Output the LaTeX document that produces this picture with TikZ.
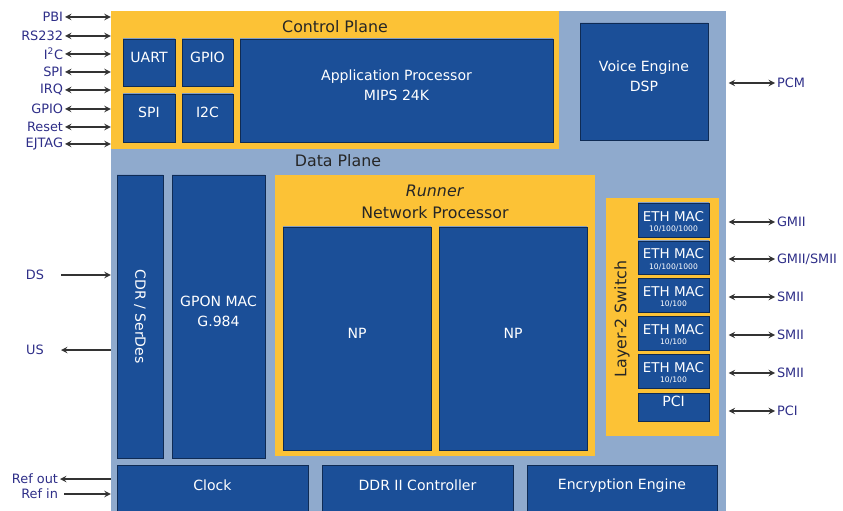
\documentclass[tikz,border=0pt]{standalone}
\usepackage{fontspec}
\setmainfont{DejaVu Sans}
\usetikzlibrary{fit}
\definecolor{dblue}{HTML}{1B4F98}
\definecolor{gold}{HTML}{FCC236}
\definecolor{slate}{HTML}{8FAACD}
\definecolor{navy}{HTML}{2E2E88}

\begin{document}
\begin{tikzpicture}[x=0.03cm,y=-0.03cm,>=stealth,
  blk/.style={fill=dblue,draw=dblue!55!black,line width=0.6pt,inner sep=0pt,
    text=white,align=center,font=\fontsize{12}{17}\selectfont,
    path picture={\draw[dblue!55!white,line width=1.2pt]
      (path picture bounding box.north west) -- (path picture bounding box.north east);}},
  area/.style={fill=gold,draw=none,inner sep=0pt},
  title/.style={text=black!85,font=\fontsize{13.5}{19}\selectfont,align=center},
  pin/.style={text=navy,font=\fontsize{11}{12}\selectfont,inner sep=1.5pt},
  io/.style={line width=1.4pt,black!80},
  eth/.style={blk,label={[text=white,inner sep=0pt,yshift=3pt,font=\fontsize{11.5}{12}\selectfont]center:ETH MAC},
    label={[text=white,inner sep=0pt,yshift=-8pt,font=\fontsize{6.5}{7}\selectfont]center:#1}}]
\useasboundingbox (0,0) rectangle (843,511);

% chip and planes
\node[fill=slate,inner sep=0pt,fit={(111,11) (726,511)}] (chip) {};
\node[area,fit={(111,11) (559,149)}] (ctrl) {};
\node[title] (ctrltitle) at (335,27) {Control Plane};
\node[title] (datatitle) at (338,161) {Data Plane};

% control plane
\node[blk,fit={(123,39) (175,86)}] (uart) {UART};
\node[blk,fit={(182,39) (233,86)}] (gpio) {GPIO};
\node[blk,fit={(123,94) (175,142)}] (spi) {SPI};
\node[blk,fit={(182,94) (233,142)}] (itwoc) {I2C};
\node[blk,fit={(240,39) (553,142)}] (app) {Application Processor\\MIPS 24K};
\node[blk,fit={(580,23) (708,140)}] (voice) {Voice Engine\\DSP};

% data plane
\node[blk,fit={(117,175) (163,458)}] (cdr) {};
\node[text=white,rotate=-90,font=\fontsize{12}{12}\selectfont] (cdrtxt) at (cdr) {CDR / SerDes};
\node[blk,fit={(172,175) (265,458)}] (gpon) {GPON MAC\\G.984};
\node[area,fit={(275,175) (595,456)}] (runner) {};
\node[title,anchor=north] (runnertitle) at (435,181) {\textit{Runner}\\Network Processor};
\node[blk,fit={(283,227) (431,450)}] (npa) {NP};
\node[blk,fit={(439,227) (587,450)}] (npb) {NP};

% layer-2 switch
\node[area,fit={(606,198) (719,436)}] (switch) {};
\node[title,rotate=90] (switchtxt) at (622,319) {Layer-2 Switch};
\node[eth=10/100/1000,fit={(638,203) (709,237)}] (etha) {};
\node[eth=10/100/1000,fit={(638,241) (709,274)}] (ethb) {};
\node[eth=10/100,fit={(638,278) (709,312)}] (ethc) {};
\node[eth=10/100,fit={(638,316) (709,350)}] (ethd) {};
\node[eth=10/100,fit={(638,354) (709,388)}] (ethe) {};
\node[blk,fit={(638,393) (709,421)}] (pci) {PCI};

% bottom row
\node[blk,fit={(117,465) (308,516)}] (clock) {Clock};
\node[blk,fit={(322,465) (513,516)}] (ddr) {DDR II Controller};
\node[blk,fit={(527,465) (717,516)}] (crypt) {Encryption Engine};

% left pins
\foreach \name/\txt/\y in {pbi/PBI/17, rs/RS232/36, itc/I\textsuperscript{2}C/54,
    spip/SPI/72, irq/IRQ/90, gpiop/GPIO/109, reset/Reset/127, ejtag/EJTAG/144}{
  \node[pin,anchor=east] (\name) at (65,\y) {\txt};
  \draw[io,<->] (\name.east) -- (\name.east -| chip.west);
}
\node[pin] (ds) at (35,275) {DS};
\node[pin] (us) at (35,350) {US};
\coordinate (dsend) at (61,275);
\coordinate (usend) at (61,350);
\draw[io,->] (dsend) -- (dsend -| chip.west);
\draw[io,->] (usend -| chip.west) -- (usend);
\node[pin,anchor=east] (refout) at (60,479) {Ref out};
\node[pin,anchor=east] (refin) at (60,494) {Ref in};
\draw[io,->] (refout.east -| chip.west) -- (refout.east);
\coordinate (refinstart) at (64,494);
\draw[io,->] (refinstart) -- (refinstart -| chip.west);

% right pins
\foreach \name/\txt/\y in {pcm/PCM/83, gmii/GMII/222, gsmii/{GMII/SMII}/259,
    smiia/SMII/297, smiib/SMII/335, smiic/SMII/373, pcip/PCI/411}{
  \node[pin,anchor=west] (\name) at (775,\y) {\txt};
  \draw[io,<->] ([xshift=2pt]\name.west -| chip.east) -- (\name.west);
}
\end{tikzpicture}
\end{document}
